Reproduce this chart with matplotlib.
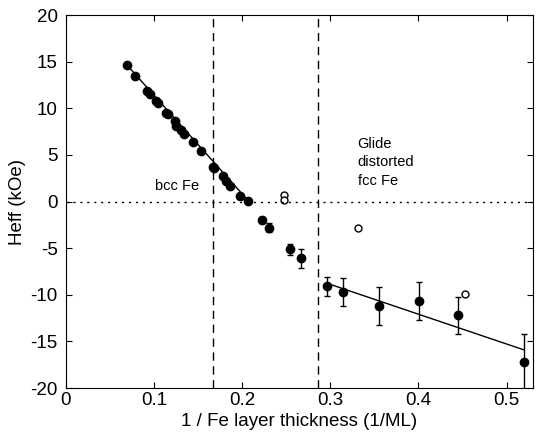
import matplotlib.pyplot as plt
import numpy as np

plt.rcParams['font.family'] = ['Liberation Sans', 'DejaVu Sans']
plt.rcParams['axes.unicode_minus'] = False

# bcc region, filled points (no visible error bars)
bcc_x = [0.0688, 0.0782, 0.0922, 0.0960, 0.1028, 0.1046, 0.1134, 0.1160, 0.1243,
         0.1254, 0.1310, 0.1338, 0.1443, 0.1538, 0.1667, 0.1678, 0.1784, 0.1822,
         0.1867, 0.1980, 0.2068]
bcc_y = [14.6, 13.5, 11.9, 11.5, 10.8, 10.6, 9.5, 9.4, 8.6,
         8.1, 7.7, 7.2, 6.4, 5.4, 3.75, 3.6, 2.75, 2.2,
         1.7, 0.6, 0.1]

# intermediate + fcc region, filled points with error bars
fcc_x = [0.222, 0.231, 0.254, 0.267, 0.2967, 0.3144, 0.355, 0.4006, 0.445, 0.5196]
fcc_y = [-1.95, -2.8, -5.1, -6.1, -9.1, -9.65, -11.2, -10.7, -12.2, -17.25]
fcc_err = [0.3, 0.5, 0.6, 1.05, 1.0, 1.5, 2.05, 2.05, 2.0, 3.0]

# open circles
open_x = [0.248, 0.248, 0.331, 0.453]
open_y = [0.75, 0.15, -2.8, -9.9]

# linear fits
bcc_fit_x = [0.0688, 0.2068]
bcc_fit_y = [14.7, 0.1]
fcc_fit_x = [0.299, 0.5196]
fcc_fit_y = [-8.85, -15.9]

fig = plt.figure(figsize=(5.4, 4.43), dpi=100)
ax = fig.add_axes([0.122, 0.124, 0.865, 0.842])

ax.plot(bcc_fit_x, bcc_fit_y, color='black', lw=1)
ax.plot(fcc_fit_x, fcc_fit_y, color='black', lw=1)
ax.plot(bcc_x, bcc_y, 'o', color='black', ms=6)
ax.errorbar(fcc_x, fcc_y, yerr=fcc_err, fmt='o', color='black', ms=6,
            elinewidth=1, capsize=2.5, capthick=1)
ax.plot(open_x, open_y, 'o', mfc='white', mec='black', ms=5, mew=1)

ax.axvline(1 / 6, color='black', ls=(0, (6, 4)), lw=1)
ax.axvline(1 / 3.5, color='black', ls=(0, (6, 4)), lw=1)
ax.axhline(0, color='black', ls=(0, (1.5, 3.5)), lw=1)

ax.text(0.101, 1.7, 'bcc Fe', fontsize=10.5, va='center', ha='left')
ax.text(0.331, 4.2, 'Glide\ndistorted\nfcc Fe', fontsize=10.5, va='center',
        ha='left', linespacing=1.4)

ax.set_xlim(0, 0.53)
ax.set_ylim(-20, 20)
ax.set_xticks([0, 0.1, 0.2, 0.3, 0.4, 0.5])
ax.set_xticklabels(['0', '0.1', '0.2', '0.3', '0.4', '0.5'])
ax.set_yticks(np.arange(-20, 21, 5))
ax.tick_params(direction='in', top=True, right=True, labelsize=13.5, length=4)
ax.tick_params(axis='x', pad=3)
ax.tick_params(axis='y', pad=6)
ax.set_xlabel('1 / Fe layer thickness (1/ML)', fontsize=13.5, labelpad=3)
ax.set_ylabel('Heff (kOe)', fontsize=13.5, labelpad=3)

fig.savefig('out.png', dpi=100)
